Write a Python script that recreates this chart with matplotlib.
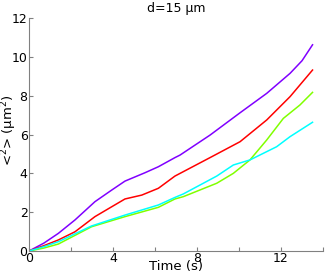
import numpy as np
import matplotlib
matplotlib.use('Agg')
import matplotlib.pyplot as plt

# time points (s) and <r^2> (um^2)
t_purple = [0, 0.7, 1.40, 2.19, 3.14, 3.94, 4.57, 5.52, 6.16, 6.95, 7.19, 8.62, 10.05, 11.32, 12.43, 13.0, 13.5]
msd_purple = [0, 0.40, 0.91, 1.60, 2.54, 3.14, 3.60, 4.03, 4.34, 4.81, 4.94, 5.97, 7.12, 8.12, 9.15, 9.80, 10.62]

t_red = [0, 0.7, 1.40, 2.19, 3.14, 3.94, 4.57, 5.37, 6.16, 6.95, 8.62, 10.05, 11.32, 12.43, 13.5]
msd_red = [0, 0.27, 0.57, 0.99, 1.77, 2.28, 2.68, 2.88, 3.23, 3.86, 4.81, 5.63, 6.75, 7.95, 9.32]

t_green = [0, 0.7, 1.40, 2.98, 4.57, 6.16, 6.95, 7.35, 8.94, 9.73, 10.52, 11.32, 12.11, 12.9, 13.5]
msd_green = [0, 0.15, 0.36, 1.25, 1.77, 2.25, 2.68, 2.80, 3.49, 4.00, 4.69, 5.72, 6.83, 7.52, 8.17]

t_cyan = [0, 0.7, 1.40, 2.98, 4.57, 6.16, 6.95, 7.35, 8.94, 9.73, 10.52, 11.79, 12.43, 13.5]
msd_cyan = [0, 0.22, 0.48, 1.29, 1.85, 2.37, 2.76, 2.94, 3.86, 4.43, 4.69, 5.37, 5.89, 6.63]

series = [
    (t_purple, msd_purple, '#8000ff'),
    (t_red, msd_red, '#ff0000'),
    (t_green, msd_green, '#80ff00'),
    (t_cyan, msd_cyan, '#00ffff'),
]

fig = plt.figure(figsize=(3.32, 2.74), dpi=100)
ax = fig.add_axes([0.0873, 0.0839, 0.8857, 0.8504])

for t, m, c in series:
    ax.plot(t, m, color=c, lw=1.1)

ax.set_xlim(0, 14)
ax.set_ylim(0, 12)
ax.set_xticks(np.arange(0, 15, 2))
ax.set_xticklabels(['0', '', '4', '', '8', '', '12', ''])
ax.set_yticks(np.arange(0, 13, 2))

for s in ['top', 'right']:
    ax.spines[s].set_visible(False)
for s in ['left', 'bottom']:
    ax.spines[s].set_color('#808080')
    ax.spines[s].set_linewidth(0.8)

ax.tick_params(direction='in', length=3, color='#808080', labelsize=9, pad=1)

ax.set_xlabel('Time (s)', fontsize=9.5)
ax.xaxis.set_label_coords(0.5, -0.04)
ax.set_ylabel('<$^2$> (μm$^2$)', fontsize=9.5)
ax.yaxis.set_label_coords(-0.035, 0.52)
ax.set_title('d=15 μm', fontsize=9, pad=4)

fig.savefig('out.png', dpi=100)
